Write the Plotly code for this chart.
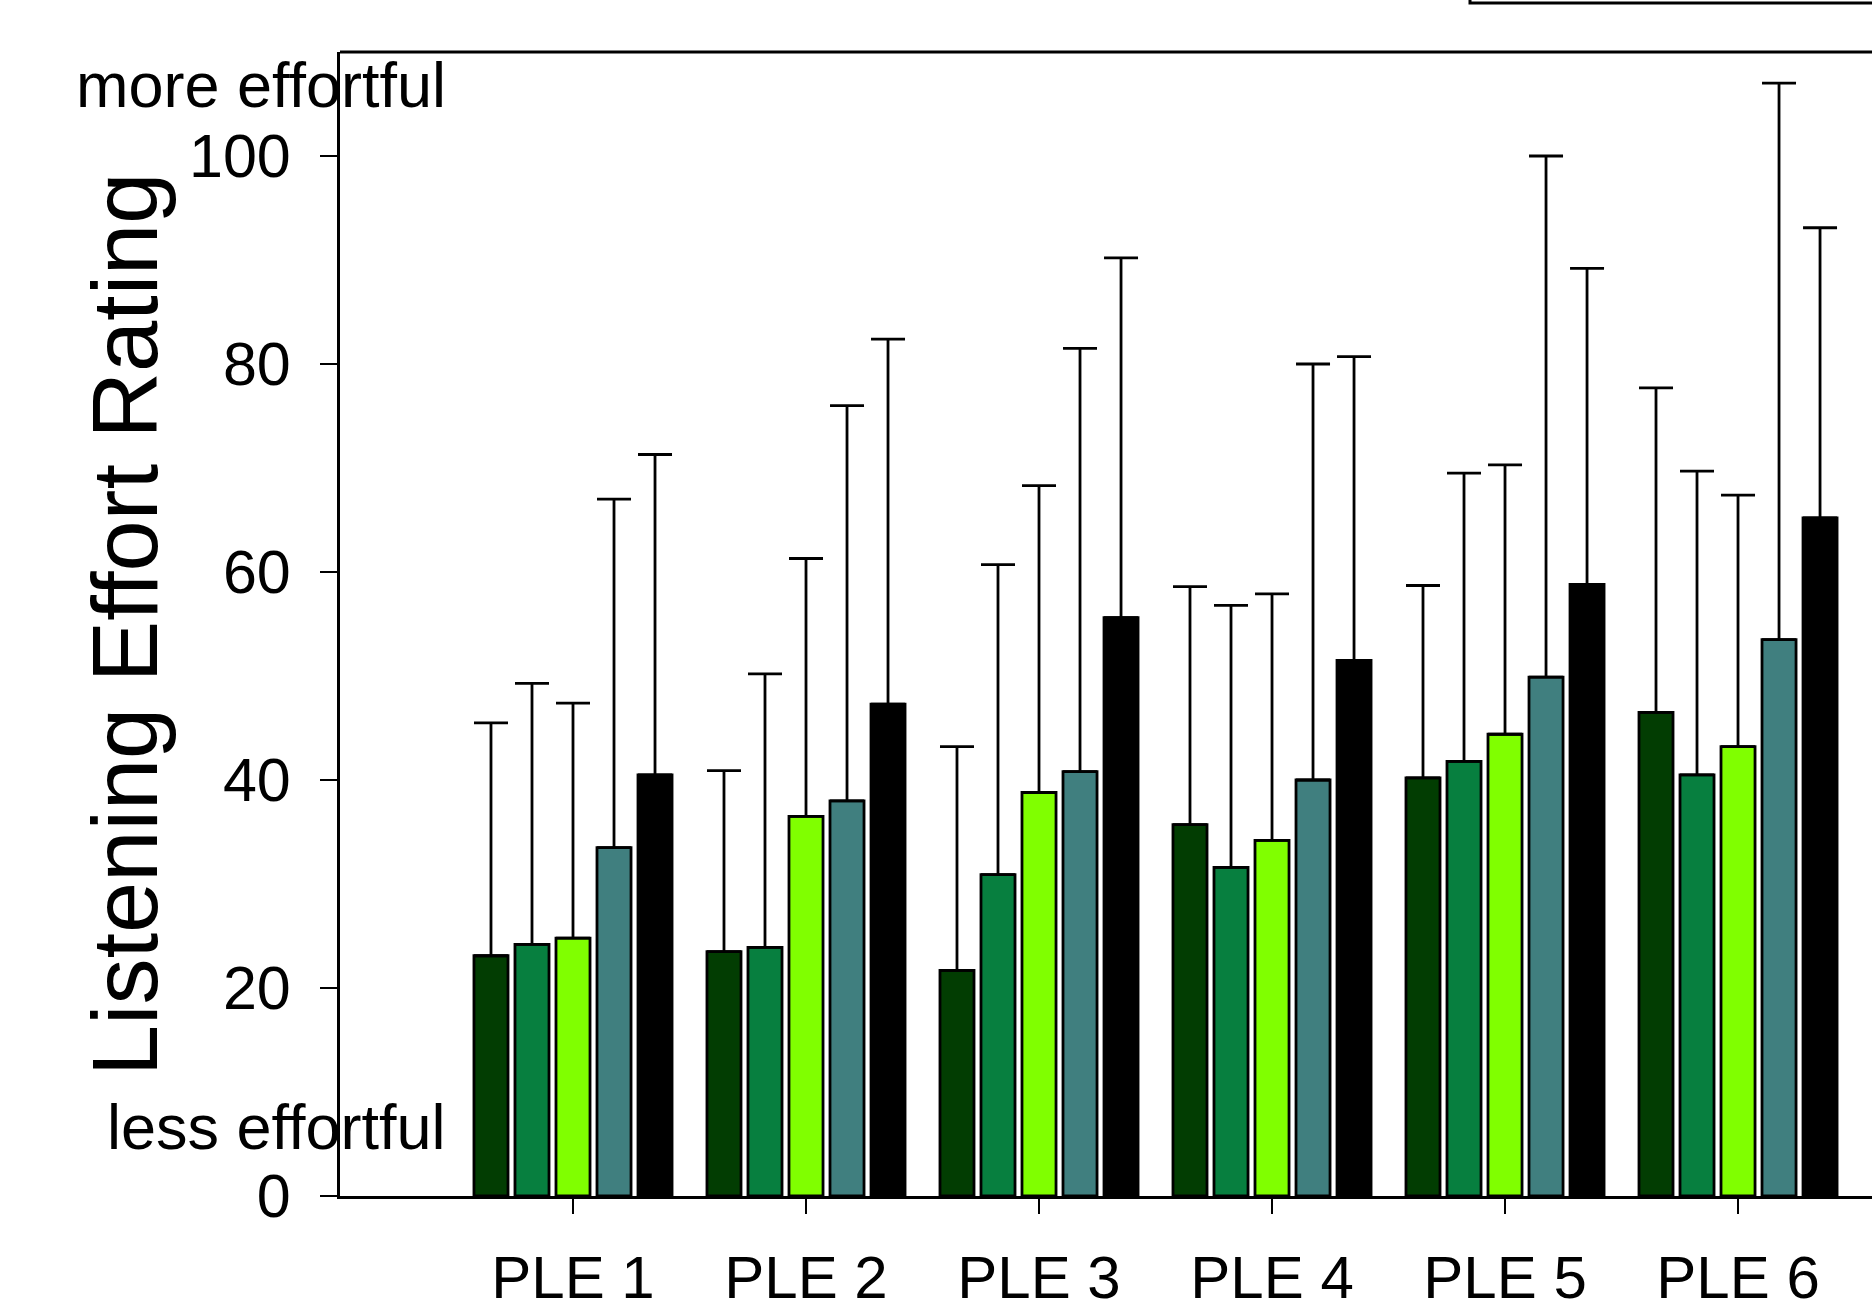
import plotly.graph_objects as go

categories = [1, 2, 3, 4, 5, 6]
tick_labels = ["PLE 1", "PLE 2", "PLE 3", "PLE 4", "PLE 5", "PLE 6"]

series_names = ["Cond A", "Cond B", "Cond C", "Cond D", "Cond E"]
colors = ["#023d02", "#077f3f", "#80ff00", "#407f7f", "#000000"]

means_a = [23.1, 23.5, 21.7, 35.7, 40.2, 46.5]
means_b = [24.2, 23.9, 30.9, 31.6, 41.8, 40.5]
means_c = [24.8, 36.5, 38.8, 34.2, 44.4, 43.2]
means_d = [33.5, 38.0, 40.8, 40.0, 49.9, 53.5]
means_e = [40.5, 47.3, 55.6, 51.5, 58.8, 65.2]

sd_a = [22.4, 17.4, 21.5, 22.9, 18.5, 31.2]
sd_b = [25.1, 26.3, 29.8, 25.2, 27.7, 29.2]
sd_c = [22.6, 24.8, 29.5, 23.7, 25.9, 24.2]
sd_d = [33.5, 38.0, 40.7, 40.0, 50.1, 53.5]
sd_e = [30.8, 35.1, 34.6, 29.2, 30.4, 27.9]

means = [means_a, means_b, means_c, means_d, means_e]
sds = [sd_a, sd_b, sd_c, sd_d, sd_e]

fig = go.Figure()
for name, col, m, s in zip(series_names, colors, means, sds):
    fig.add_trace(go.Bar(
        x=categories, y=m, name=name,
        marker=dict(color=col, line=dict(color="black", width=2.8)),
        error_y=dict(type="data", symmetric=False, array=s,
                     arrayminus=[0] * len(s), color="black",
                     thickness=2.8, width=17),
    ))

font_family = "Liberation Sans, Arial, sans-serif"

fig.update_layout(
    width=1872, height=1310,
    margin=dict(l=340, r=0, t=52, b=114),
    paper_bgcolor="white", plot_bgcolor="white",
    barmode="group", bargap=0.12, bargroupgap=0.17,
    showlegend=False,
    font=dict(family=font_family, size=60, color="black"),
    xaxis=dict(
        range=[0, 6.575], tickmode="array", tickvals=categories,
        ticktext=tick_labels, showline=True, linecolor="black", linewidth=3,
        ticks="outside", ticklen=15, tickwidth=2, tickcolor="black",
        showgrid=False, zeroline=False, ticklabelstandoff=12,
        tickfont=dict(size=60), automargin=False,
    ),
    yaxis=dict(
        range=[0, 110], tickmode="array", tickvals=[0, 20, 40, 60, 80, 100],
        showline=True, linecolor="black", linewidth=3,
        ticks="outside", ticklen=17, tickwidth=2, tickcolor="black",
        showgrid=False, zeroline=False, ticklabelstandoff=17,
        tickfont=dict(size=61), automargin=False,
    ),
    shapes=[
        dict(type="line", xref="paper", yref="paper", x0=0, x1=1, y0=1, y1=1,
             line=dict(color="black", width=3)),
        dict(type="rect", xref="paper", yref="paper", x0=0.7376, x1=1.1,
             y0=1.0428, y1=1.2, line=dict(color="black", width=3)),
    ],
    annotations=[
        dict(text="Listening Effort Rating", xref="paper", yref="paper",
             x=-0.1403, y=0.5, xanchor="center", yanchor="middle",
             textangle=-90, showarrow=False, font=dict(size=92)),
        dict(text="more effortful", xref="x", yref="y", x=0.463, y=106.8,
             xanchor="right", yanchor="middle", showarrow=False,
             font=dict(size=63)),
        dict(text="less effortful", xref="x", yref="y", x=0.463, y=6.6,
             xanchor="right", yanchor="middle", showarrow=False,
             font=dict(size=63)),
    ],
)

fig.write_html(
    "out.html",
    config={"displayModeBar": False},
    post_script="document.body.style.margin='0';document.body.style.overflow='hidden';",
)
